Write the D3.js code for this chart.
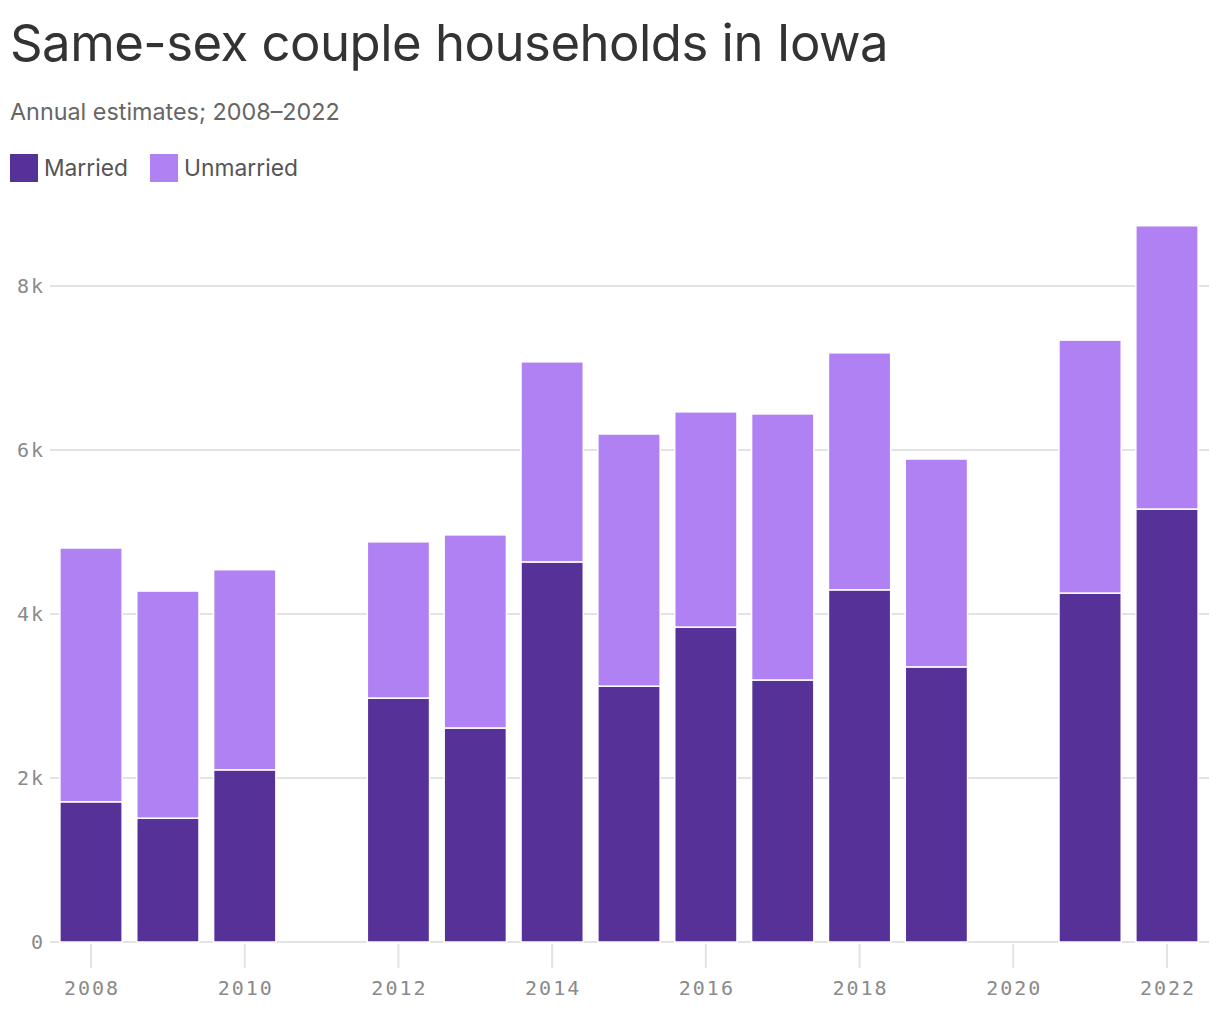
<!DOCTYPE html>
<html><head><meta charset="utf-8">
<script src="https://cdn.jsdelivr.net/npm/d3@7"></script>
<style>
body{margin:0;background:#fff;}
svg{display:block;}
</style></head>
<body>
<svg id="chart" width="1220" height="1018"></svg>
<script>
const years = [2008,2009,2010,2011,2012,2013,2014,2015,2016,2017,2018,2019,2020,2021,2022];
const married =   [1710,1510,2100,null,2975,2610,4635,3120,3840,3195,4295,3355,null,4255,5280];
const unmarried = [3095,2770,2440,null,1905,2355,2440,3075,2625,3245,2890,2535,null,3085,3455];
const yTicks = [0,2000,4000,6000,8000];
const yTickLabels = ["0","2k","4k","6k","8k"];
const xTickYears = [2008,2010,2012,2014,2016,2018,2020,2022];
const seriesNames = ["Married","Unmarried"];
const colors = ["#563298","#B081F3"];

const svg = d3.select("#chart");
const sans = "Inter, 'Noto Sans', 'Liberation Sans', sans-serif";
const mono = "'DejaVu Sans Mono', 'Liberation Mono', monospace";

function fitText(sel, target){
  const w = sel.node().getComputedTextLength();
  const fs = parseFloat(sel.attr("font-size"));
  sel.attr("font-size", fs*target/w);
}

const title = svg.append("text").attr("x",10).attr("y",61)
  .attr("font-family",sans).attr("font-size",50).attr("fill","#333")
  .attr("letter-spacing","-0.5").text("Same-sex couple households in Iowa");
fitText(title, 878);

const sub = svg.append("text").attr("x",10).attr("y",120)
  .attr("font-family",sans).attr("font-size",22).attr("fill","#666")
  .text("Annual estimates; 2008–2022");
fitText(sub, 330);

// legend
const legX = [10,150];
seriesNames.forEach((n,i)=>{
  svg.append("rect").attr("x",legX[i]).attr("y",154).attr("width",28).attr("height",28).attr("fill",colors[i]);
  const t = svg.append("text").attr("x",legX[i]+34).attr("y",176)
    .attr("font-family",sans).attr("font-size",22).attr("fill","#555").text(n);
  fitText(t, i===0?84:114);
});

const x = d3.scaleBand().domain(years).range([52.6,1205.4]).paddingInner(0.19).paddingOuter(0.095);
const y = d3.scaleLinear().domain([0,8000]).range([942,286]);

// gridlines
svg.append("g").selectAll("line").data(yTicks).join("line")
  .attr("x1",50).attr("x2",1209).attr("y1",d=>y(d)).attr("y2",d=>y(d))
  .attr("stroke","#e3e3e3").attr("stroke-width",2);

// y labels
svg.append("g").selectAll("text").data(yTicks).join("text")
  .attr("x",45).attr("y",d=>y(d)+7).attr("text-anchor","end")
  .attr("font-family",mono).attr("font-size",20).attr("letter-spacing","2").attr("fill","#8a8a8a")
  .text((d,i)=>yTickLabels[i]);

// x ticks
const xc = d=>x(d)+x.bandwidth()/2;
svg.append("g").selectAll("line").data(xTickYears).join("line")
  .attr("x1",xc).attr("x2",xc).attr("y1",944).attr("y2",968)
  .attr("stroke","#e3e3e3").attr("stroke-width",2);
svg.append("g").selectAll("text").data(xTickYears).join("text")
  .attr("x",d=>xc(d)+1).attr("y",995).attr("text-anchor","middle")
  .attr("font-family",mono).attr("font-size",20).attr("letter-spacing","2").attr("fill","#8a8a8a")
  .text(d=>d);

// stacked bars
const rows = years.map((yr,i)=>({year:yr, Married:married[i]||0, Unmarried:unmarried[i]||0}))
  .filter((r,i)=>married[i]!==null);
const stack = d3.stack().keys(seriesNames)(rows);
svg.append("g").selectAll("g").data(stack).join("g")
  .attr("fill",(d,i)=>colors[i])
  .selectAll("rect").data(d=>d).join("rect")
  .attr("x",d=>x(d.data.year)).attr("width",x.bandwidth())
  .attr("y",d=>y(d[1])).attr("height",d=>y(d[0])-y(d[1]))
  .attr("stroke","#fff").attr("stroke-width",1.5);
</script>
</body></html>
